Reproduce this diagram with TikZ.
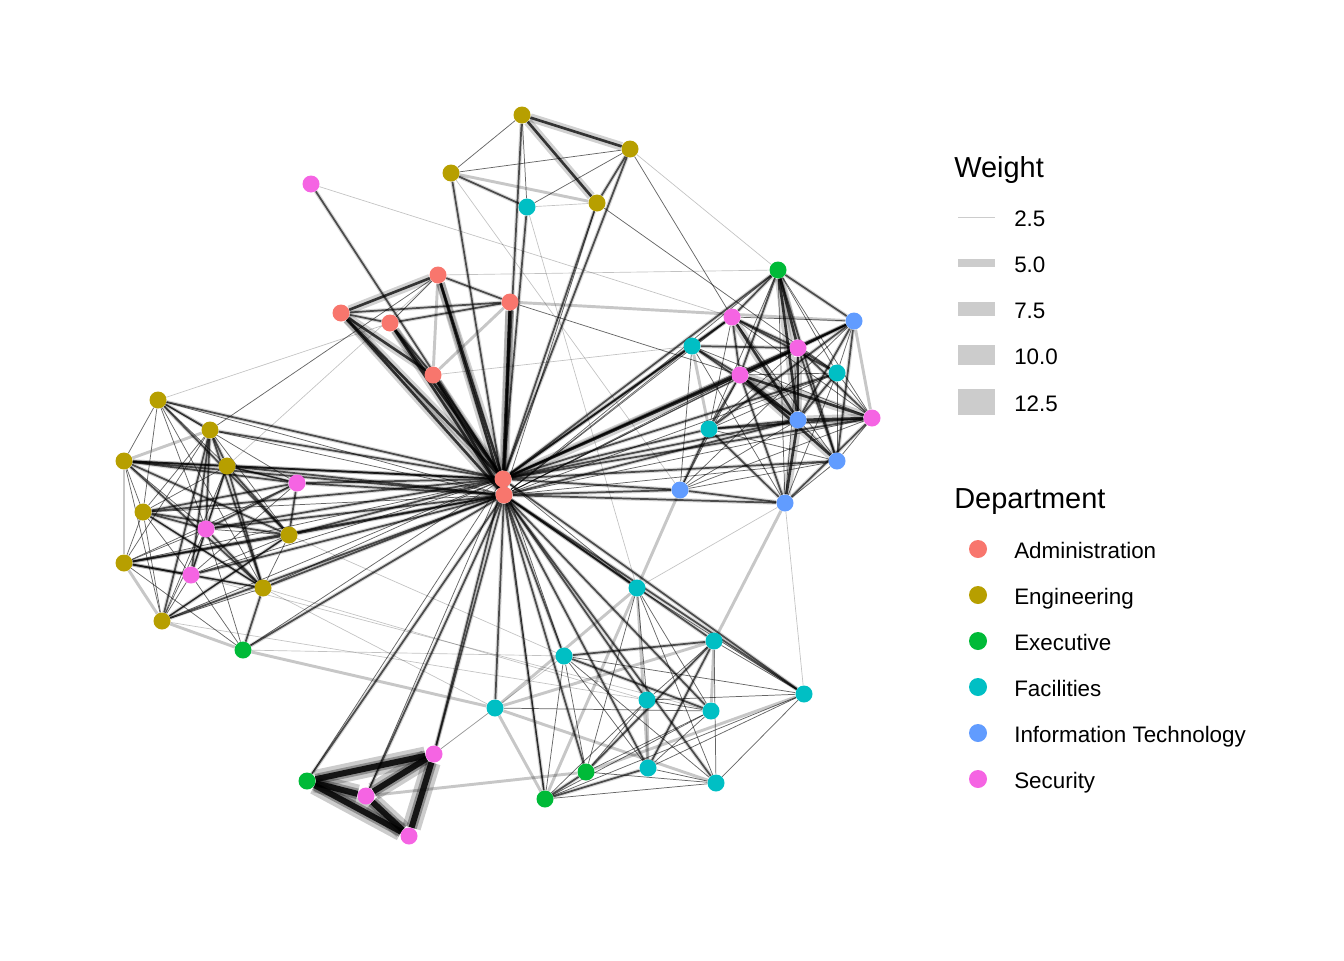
\documentclass[tikz,border=0pt]{standalone}
\usepackage{fontspec}
\setmainfont{Liberation Sans}
\usetikzlibrary{backgrounds}
\definecolor{cAdm}{HTML}{F8766D}
\definecolor{cEng}{HTML}{B79F00}
\definecolor{cExe}{HTML}{00BA38}
\definecolor{cFac}{HTML}{00BFC4}
\definecolor{cIT}{HTML}{619CFF}
\definecolor{cSec}{HTML}{F564E3}
\tikzset{
  vtx/.style={circle, inner sep=0pt, minimum size=12.75pt, draw=none},
  adm/.style={vtx, fill=cAdm}, eng/.style={vtx, fill=cEng}, exe/.style={vtx, fill=cExe},
  fac/.style={vtx, fill=cFac}, itn/.style={vtx, fill=cIT}, sec/.style={vtx, fill=cSec},
  ewl/.style={draw=black, draw opacity=0.24, line width=0.5pt},
  ewg/.style={draw=black, draw opacity=0.22, line width=2.2pt},
  ewt/.style={draw=black, draw opacity=0.6, line width=0.55pt},
  ewm/.style={draw=black, draw opacity=0.65, line width=1.3pt, preaction={draw=black, draw opacity=0.15, line width=3pt}},
  ewh/.style={draw=black, draw opacity=0.75, line width=2pt, preaction={draw=black, draw opacity=0.18, line width=6.5pt}},
  ewx/.style={draw=black, draw opacity=0.85, line width=4.5pt, preaction={draw=black, draw opacity=0.2, line width=14pt}, preaction={draw=black, draw opacity=0.3, line width=8pt}},
  lgtitle/.style={anchor=base west, inner sep=0pt, font=\fontsize{21.7}{26}\selectfont},
  lglabel/.style={anchor=base west, inner sep=0pt, font=\fontsize{16.8}{20}\selectfont},
  lgdot/.style={circle, inner sep=0pt, minimum size=13.5pt, draw=none}
}
\begin{document}
\begin{tikzpicture}[x=0.75pt, y=-0.75pt]
\useasboundingbox (0,0) rectangle (1344,960);
% Administration
\node[adm] (a1) at (503,479) {};
\node[adm] (a2) at (504,495) {};
\node[adm] (a3) at (438,275) {};
\node[adm] (a4) at (510,302) {};
\node[adm] (a5) at (341,313) {};
\node[adm] (a6) at (390,323) {};
\node[adm] (a7) at (433,375) {};
% Engineering
\node[eng] (e1) at (522,115) {};
\node[eng] (e2) at (630,149) {};
\node[eng] (e3) at (451,173) {};
\node[eng] (e4) at (597,203) {};
\node[eng] (e5) at (158,400) {};
\node[eng] (e6) at (210,430) {};
\node[eng] (e7) at (124,461) {};
\node[eng] (e8) at (227,466) {};
\node[eng] (e9) at (143,512) {};
\node[eng] (e10) at (289,535) {};
\node[eng] (e11) at (124,563) {};
\node[eng] (e12) at (263,588) {};
\node[eng] (e13) at (162,621) {};
% Executive
\node[exe] (x1) at (778,270) {};
\node[exe] (x2) at (243,650) {};
\node[exe] (x3) at (307,781) {};
\node[exe] (x4) at (586,772) {};
\node[exe] (x5) at (545,799) {};
% Facilities
\node[fac] (f1) at (527,207) {};
\node[fac] (f2) at (692,346) {};
\node[fac] (f3) at (837,373) {};
\node[fac] (f4) at (709,429) {};
\node[fac] (f5) at (637,588) {};
\node[fac] (f6) at (714,641) {};
\node[fac] (f7) at (564,656) {};
\node[fac] (f8) at (804,694) {};
\node[fac] (f9) at (647,700) {};
\node[fac] (f10) at (495,708) {};
\node[fac] (f11) at (711,711) {};
\node[fac] (f12) at (648,768) {};
\node[fac] (f13) at (716,783) {};
% IT
\node[itn] (i1) at (854,321) {};
\node[itn] (i2) at (798,420) {};
\node[itn] (i3) at (837,461) {};
\node[itn] (i4) at (680,490) {};
\node[itn] (i5) at (785,503) {};
% Security
\node[sec] (s1) at (311,184) {};
\node[sec] (s2) at (732,317) {};
\node[sec] (s3) at (798,348) {};
\node[sec] (s4) at (740,375) {};
\node[sec] (s5) at (872,418) {};
\node[sec] (s6) at (297,483) {};
\node[sec] (s7) at (206,529) {};
\node[sec] (s8) at (191,575) {};
\node[sec] (s9) at (434,754) {};
\node[sec] (s10) at (366,796) {};
\node[sec] (s11) at (409,836) {};

\begin{scope}[on background layer]
% light cross links
\foreach \a/\b in {s1/s2,a3/x1,a7/f2,e5/a6,e8/a3,f1/f5,e3/i4,f1/e4,e2/x1,s9/f7,s9/f10,f8/i5,i5/f5,e12/f10,e12/f9,e10/f7,s8/f11,x2/f7,e13/f9}
  \draw[ewl] (\a) -- (\b);
\foreach \a/\b in {a4/i1,a3/a7,a7/a4,e3/e4,e6/e7,e7/e11,e11/e13,e13/x2,f10/f5,f10/x5,f10/f6,f10/f13,f8/x4,f5/f12,f9/f12,f5/x5,x2/f10,f6/i5,f5/i4,s10/x4,f2/f4,i1/s5,f6/f11}
  \draw[ewg] (\a) -- (\b);
% thin dark
\foreach \a/\b in {a4/s4,e6/a3,e2/s2,e4/f3,a3/a6,e1/e3,e1/f1,e3/e2,e2/f1,e4/a2,s5/a2,e11/a1,e12/a1,x5/a1,e5/a2,e6/a2,e9/a2,
  x1/a2,s2/a2,s3/a2,s4/a2,f2/a2,f3/a2,i1/a2,i3/a2,e13/a1,s8/a1,x2/a1,f5/a1,f7/a1,x3/a1,s10/a1,
  x1/f3,x1/s5,x1/f4,x1/i5,s2/i1,s2/s5,s2/i3,s2/f4,f2/i4,f2/s5,f2/i5,s3/f4,s3/i5,s4/f3,s4/i4,i1/f3,i1/i4,f3/s5,f3/i3,f3/i5,f3/f4,s5/i3,s5/i4,i2/i3,i2/i4,f4/i3,i3/i5,i3/i4,
  e5/e7,e5/e8,e5/e9,e5/s7,e5/e12,e5/s6,e6/e9,e6/e11,e6/e10,e7/e9,e7/s7,e7/e13,e8/e9,e8/s7,e8/e13,e8/s6,e9/e11,e9/s8,e9/e12,e9/e13,e10/s7,e10/s8,e10/e12,e10/e13,e11/s7,e11/x2,e11/s6,e12/s8,e12/e13,e13/s8,e13/s7,s6/s8,s7/s8,s8/x2,s7/x2,
  f10/f11,f7/f8,f7/f13,f7/x4,f7/x5,f7/f12,f5/f9,f5/x4,f5/f13,f5/f11,f6/f13,f6/f9,f9/x5,f9/x4,f11/x4,f11/x5,f11/f12,f8/f13,f8/x5,f8/f12,f8/f9,x5/f13,x4/f13,f12/f13,f9/f11,f6/f8,f5/f8}
  \draw[ewt] (\a) -- (\b);
% medium
\foreach \a/\b in {a5/a4,a5/a6,a3/a4,a6/a4,a6/a7,e3/f1,e2/e4,
  e1/a1,e3/a2,f1/a1,e2/a1,e4/a1,s1/a1,
  x1/a1,s2/a1,f2/a1,i1/a1,s3/a1,f3/a1,i2/a1,s5/a1,i3/a1,f4/a1,i4/a1,i4/a2,i5/a2,i2/a2,
  e5/a1,e6/a1,e7/a1,e7/a2,e8/a1,e8/a2,e9/a1,e10/a1,e10/a2,e11/a2,e12/a2,e13/a2,s6/a1,s6/a2,s7/a1,s7/a2,s8/a2,x2/a2,
  x3/a2,s9/a2,s9/a1,s10/a2,f10/a2,x5/a2,x4/a2,f12/a2,f13/a2,f9/a2,f11/a2,f7/a2,f6/a2,f5/a2,f8/a2,f8/a1,
  x1/s2,x1/i1,x1/s4,x1/i3,s2/f2,s2/s3,s2/f3,f2/s3,f2/s4,f2/i2,s3/i1,s3/s4,s3/f3,s3/i3,s4/i1,s4/i5,s4/f4,i1/i2,i1/f4,s5/i5,s5/f4,i2/f4,f4/i4,i4/i5,s3/s5,i1/i3,f3/i2,s2/s4,f4/i5,
  e5/e6,e5/e10,e6/e8,e6/s7,e6/s8,e6/e13,e7/e8,e7/s6,e8/e10,e8/e12,e10/s6,e10/e11,e11/s8,e11/e12,e12/x2,e7/e10,e9/e10,e9/s7,e6/e12,s7/e12,e8/s8,e9/s6,e7/e12,s7/s6,e8/s6,e9/e12,e10/e13,
  f7/f6,f6/f12,f6/x4,x5/x4,x5/f12,f7/f11}
  \draw[ewm] (\a) -- (\b);
% heavy
\foreach \a/\b in {a1/a2,a5/a3,a5/a7,a5/a1,a5/a2,a3/a1,a3/a2,a6/a1,a6/a2,a7/a1,a7/a2,a4/a1,a4/a2,e1/e2,e1/e4,
  s4/a1,x1/s3,x1/i2,s2/i2,s3/i2,s4/i2,s4/s5,s4/i3,s5/i2,i2/i5}
  \draw[ewh] (\a) -- (\b);
\foreach \a/\b in {x3/s9,x3/s10,x3/s11,s9/s10,s9/s11,s10/s11}
  \draw[ewx] (\a) -- (\b);
\end{scope}

% Legend: Weight
\node[lgtitle] (wtitle) at (954,177) {Weight};
\fill[black!20] (958,216.5) rectangle (995,217.5);
\fill[black!20] (958,259) rectangle (995,267);
\fill[black!20] (958,302) rectangle (995,316);
\fill[black!20] (958,345) rectangle (995,365);
\fill[black!20] (958,388.5) rectangle (995,415);
\node[lglabel] (w1) at (1014,226) {2.5};
\node[lglabel] (w2) at (1014,272) {5.0};
\node[lglabel] (w3) at (1014,318) {7.5};
\node[lglabel] (w4) at (1014,364) {10.0};
\node[lglabel] (w5) at (1014,411) {12.5};
% Legend: Department
\node[lgtitle] (dtitle) at (954,508) {Department};
\node[lgdot, fill=cAdm] (d1) at (978,549) {};
\node[lgdot, fill=cEng] (d2) at (978,595) {};
\node[lgdot, fill=cExe] (d3) at (978,641) {};
\node[lgdot, fill=cFac] (d4) at (978,687) {};
\node[lgdot, fill=cIT] (d5) at (978,733) {};
\node[lgdot, fill=cSec] (d6) at (978,779) {};
\node[lglabel] (l1) at (1014,558) {Administration};
\node[lglabel] (l2) at (1014,604) {Engineering};
\node[lglabel] (l3) at (1014,650) {Executive};
\node[lglabel] (l4) at (1014,696) {Facilities};
\node[lglabel] (l5) at (1014,742) {Information Technology};
\node[lglabel] (l6) at (1014,788) {Security};
\end{tikzpicture}
\end{document}
